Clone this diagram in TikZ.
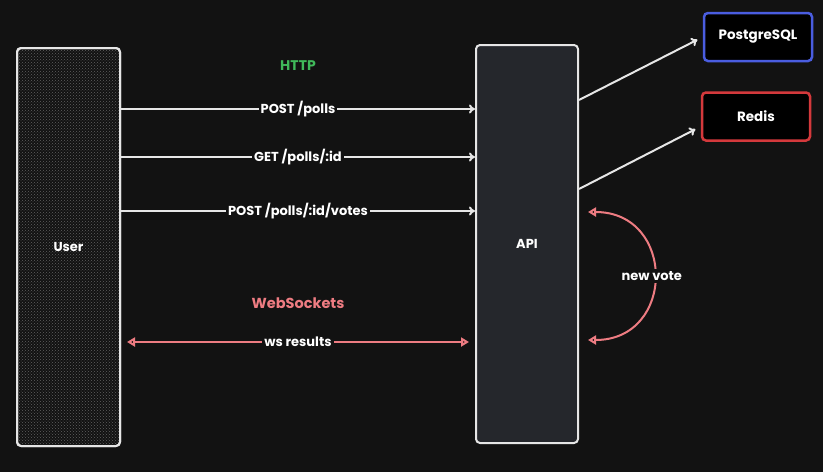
\documentclass[tikz,border=0pt]{standalone}
\usepackage{fontspec}
\setmainfont{Poppins}
\usetikzlibrary{arrows.meta,patterns}
\definecolor{bgc}{HTML}{121212}
\definecolor{linec}{HTML}{E6E6E6}
\definecolor{httpc}{HTML}{40B95A}
\definecolor{wsc}{HTML}{EE7C82}
\definecolor{pgc}{HTML}{4A5DE0}
\definecolor{redisc}{HTML}{D4393C}
\definecolor{apic}{HTML}{25272C}
\tikzstyle{box} = [draw=linec, line width=2pt, rounded corners=4pt, text=white, font=\fontsize{13}{15}\selectfont\bfseries]
\tikzstyle{store} = [draw, line width=2.5pt, rounded corners=4pt, fill=black, text=white, minimum width=108pt, minimum height=48pt, font=\fontsize{13.5}{15}\selectfont\bfseries]
\tikzstyle{req} = [draw=linec, line width=2pt, -{To[length=6pt,width=9pt]}]
\tikzstyle{ws} = [draw=wsc, line width=2pt, {Triangle[open,length=8pt,width=9pt]}-{Triangle[open,length=8pt,width=9pt]}]
\tikzstyle{lbl} = [fill=bgc, text=white, inner sep=2pt, font=\fontsize{13}{15}\selectfont\bfseries]

\begin{document}
\begin{tikzpicture}[x=1pt, y=-1pt]
	\fill[bgc] (0,0) rectangle (823,472);
	\useasboundingbox (0,0) rectangle (823,472);

	\node [box, fill=black!85, pattern=crosshatch dots, pattern color=black!62!white, minimum width=103pt, minimum height=398pt] (userbg) at (68.5,247) {};
	\node [box, minimum width=103pt, minimum height=398pt] (user) at (68.5,247) {User};
	\node [box, fill=apic, minimum width=102pt, minimum height=398pt] (api) at (527,244) {API};
	\node [store, draw=pgc] (postgres) at (758,37) {PostgreSQL};
	\node [store, draw=redisc] (redis) at (756,116.5) {Redis};

	\node [text=httpc, font=\fontsize{14}{16}\selectfont\bfseries] (http) at (298,66) {HTTP};
	\node [text=wsc, font=\fontsize{14.5}{16}\selectfont\bfseries] (websockets) at (298,303) {WebSockets};

	% requests
	\draw [req] (user.east |- 0,109) -- node[lbl] {POST /polls} (api.west |- 0,109);
	\draw [req] (user.east |- 0,157) -- node[lbl] {GET /polls/:id} (api.west |- 0,157);
	\draw [req] (user.east |- 0,211) -- node[lbl] {POST /polls/:id/votes} (api.west |- 0,211);
	\draw [ws, shorten <=6pt, shorten >=6pt] (user.east |- 0,342) -- node[lbl] {ws results} (api.west |- 0,342);

	% stores
	\draw [req, shorten >=6pt] (api.east |- 0,100) -- (postgres.west);
	\draw [req, shorten >=6pt] (api.east |- 0,189) -- ([yshift=-10pt]redis.west);

	% new vote
	\draw [ws, shorten <=9pt, shorten >=9pt] (api.east |- 0,212) .. controls (676,212) and (676,340) .. node[lbl] {new vote} (api.east |- 0,340);
\end{tikzpicture}
\end{document}
